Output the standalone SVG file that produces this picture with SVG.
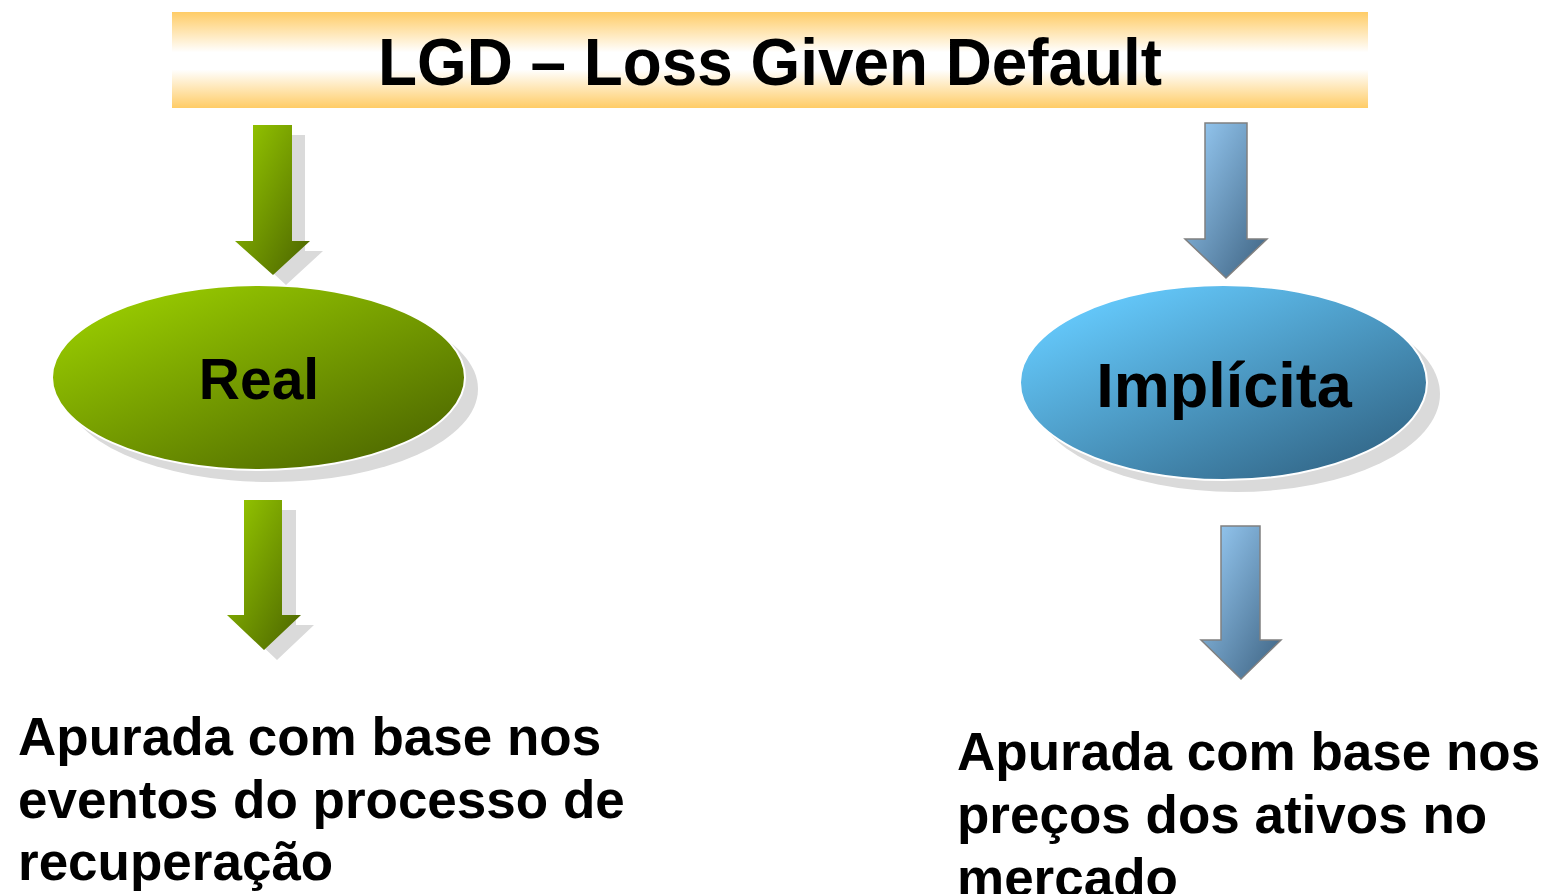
<svg xmlns="http://www.w3.org/2000/svg" width="1548" height="894" viewBox="0 0 1548 894">
<style>
text{font-family:"Liberation Sans",Arial,sans-serif;font-weight:bold;fill:#000}
.shadow{fill:#dadada}
.blue-arrow{fill:url(#gBlueArrow);stroke:#808080;stroke-width:1.5}
.green-arrow{fill:url(#gGreen)}
.body{font-size:53px}
</style>
<defs>
<linearGradient id="gBanner" x1="0" y1="0" x2="0" y2="1">
<stop offset="0" stop-color="#FFCC66"/>
<stop offset="0.42" stop-color="#FFFFFF"/>
<stop offset="0.6" stop-color="#FFFFFF"/>
<stop offset="1" stop-color="#FFCC66"/>
</linearGradient>
<linearGradient id="gGreen" x1="0" y1="0" x2="1" y2="1">
<stop offset="0" stop-color="#99CC00"/>
<stop offset="1" stop-color="#4A6300"/>
</linearGradient>
<linearGradient id="gBlueArrow" x1="0" y1="0" x2="1" y2="1">
<stop offset="0" stop-color="#9CD0FA"/>
<stop offset="1" stop-color="#3C6180"/>
</linearGradient>
<linearGradient id="gBlue" x1="0.1" y1="0.1" x2="0.9" y2="1">
<stop offset="0" stop-color="#66CCFF"/>
<stop offset="1" stop-color="#2F6080"/>
</linearGradient>
<linearGradient id="gGreenEl" x1="0.1" y1="0.1" x2="0.9" y2="1">
<stop offset="0" stop-color="#99CC00"/>
<stop offset="1" stop-color="#4A6300"/>
</linearGradient>
</defs>

<g id="title">
<rect x="172" y="12" width="1196" height="96" fill="url(#gBanner)"/>
<text x="770" y="85" font-size="66" text-anchor="middle" textLength="784" lengthAdjust="spacingAndGlyphs">LGD – Loss Given Default</text>
</g>

<g id="connectors">
<g id="arrow-real-1">
<path class="shadow" d="M266,135 H305 V251 H323 L286,285 L249,251 H266 Z"/>
<path class="green-arrow" d="M253,125 H292 V241 H310 L273,275 L235,241 H253 Z"/>
</g>
<g id="arrow-real-2">
<path class="shadow" d="M257,510 H296 V625 H314 L277,660 L240,625 H257 Z"/>
<path class="green-arrow" d="M244,500 H282 V615 H301 L264,650 L227,615 H244 Z"/>
</g>
<g id="arrow-impl-1">
<path class="blue-arrow" d="M1205,123 H1247 V239 H1267 L1226,278 L1185,239 H1205 Z"/>
</g>
<g id="arrow-impl-2">
<path class="blue-arrow" d="M1221,526 H1260 V640 H1281 L1241,679 L1201,640 H1221 Z"/>
</g>
</g>

<g id="node-real">
<ellipse class="shadow" cx="271" cy="389" rx="207" ry="93"/>
<ellipse cx="258.5" cy="377.5" rx="206.5" ry="92.5" fill="url(#gGreenEl)" stroke="#FFFFFF" stroke-width="2"/>
<text x="259" y="399" font-size="57" text-anchor="middle">Real</text>
</g>

<g id="node-implicita">
<ellipse class="shadow" cx="1236" cy="394" rx="204" ry="98"/>
<ellipse cx="1223.5" cy="382.5" rx="203.5" ry="97.5" fill="url(#gBlue)" stroke="#FFFFFF" stroke-width="2"/>
<text x="1224" y="407" font-size="63" text-anchor="middle">Implícita</text>
</g>

<g id="desc-real">
<text class="body" x="18" y="755">Apurada com base nos</text>
<text class="body" x="18" y="818">eventos do processo de</text>
<text class="body" x="18" y="880">recuperação</text>
</g>

<g id="desc-implicita">
<text class="body" x="957" y="770">Apurada com base nos</text>
<text class="body" x="957" y="833">preços dos ativos no</text>
<text class="body" x="957" y="896">mercado</text>
</g>
</svg>
